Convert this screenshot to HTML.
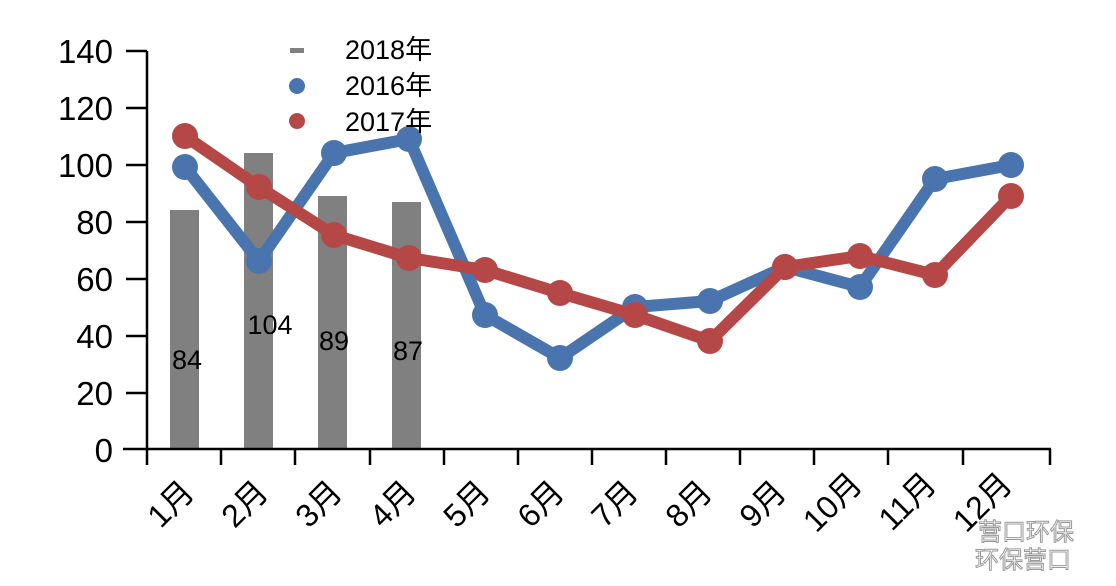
<!DOCTYPE html><html><head><meta charset="utf-8"><style>body{margin:0;background:#fff}</style></head><body>
<svg width="1116" height="581" xmlns="http://www.w3.org/2000/svg" font-family="'Liberation Sans','Noto Sans CJK SC',sans-serif">
<g fill="#808080">
<rect x="170" y="210" width="29" height="239"/>
<rect x="244" y="153" width="29" height="296"/>
<rect x="318" y="196" width="29" height="253"/>
<rect x="392" y="202" width="29" height="247"/>
</g>
<g font-size="27" fill="#000" text-anchor="middle">
<text x="187" y="369">84</text><text x="270" y="334">104</text><text x="334" y="350">89</text><text x="408" y="360">87</text>
</g>
<g stroke="#000" stroke-width="2.5" fill="none">
<line x1="147" y1="51" x2="147" y2="465"/>
<line x1="123" y1="449" x2="1051" y2="449"/>
<line x1="126" y1="51" x2="147" y2="51"/><line x1="126" y1="108" x2="147" y2="108"/><line x1="126" y1="165" x2="147" y2="165"/><line x1="126" y1="222" x2="147" y2="222"/><line x1="126" y1="279" x2="147" y2="279"/><line x1="126" y1="336" x2="147" y2="336"/><line x1="126" y1="393" x2="147" y2="393"/>
<line x1="221" y1="449" x2="221" y2="465"/><line x1="295" y1="449" x2="295" y2="465"/><line x1="370" y1="449" x2="370" y2="465"/><line x1="444" y1="449" x2="444" y2="465"/><line x1="518" y1="449" x2="518" y2="465"/><line x1="592" y1="449" x2="592" y2="465"/><line x1="666" y1="449" x2="666" y2="465"/><line x1="740" y1="449" x2="740" y2="465"/><line x1="814" y1="449" x2="814" y2="465"/><line x1="888" y1="449" x2="888" y2="465"/><line x1="963" y1="449" x2="963" y2="465"/><line x1="1050" y1="449" x2="1050" y2="465"/>
</g>
<g font-size="33" fill="#000" text-anchor="end">
<text x="113" y="63">140</text><text x="113" y="120">120</text><text x="113" y="177">100</text><text x="113" y="234">80</text><text x="113" y="291">60</text><text x="113" y="348">40</text><text x="113" y="405">20</text><text x="113" y="462">0</text>
</g>
<g font-size="32" fill="#000" text-anchor="end">
<text transform="translate(196,494) rotate(-45)">1月</text>
<text transform="translate(270,494) rotate(-45)">2月</text>
<text transform="translate(344,494) rotate(-45)">3月</text>
<text transform="translate(418,494) rotate(-45)">4月</text>
<text transform="translate(492,494) rotate(-45)">5月</text>
<text transform="translate(566,494) rotate(-45)">6月</text>
<text transform="translate(640,494) rotate(-45)">7月</text>
<text transform="translate(714,494) rotate(-45)">8月</text>
<text transform="translate(788,494) rotate(-45)">9月</text>
<text transform="translate(864,486) rotate(-45)">10月</text>
<text transform="translate(938,486) rotate(-45)">11月</text>
<text transform="translate(1014,486) rotate(-45)">12月</text>
</g>
<polyline fill="none" stroke="#4a74ae" stroke-width="12" stroke-linejoin="round" points="185,167 259,261 334,153 409,139 485,315 560,358 635,307 710,301 785,267 860,287 935,179 1011,165"/>
<g fill="#4a74ae"><circle cx="185" cy="167" r="13"/><circle cx="259" cy="261" r="13"/><circle cx="334" cy="153" r="13"/><circle cx="409" cy="139" r="13"/><circle cx="485" cy="315" r="13"/><circle cx="560" cy="358" r="13"/><circle cx="635" cy="307" r="13"/><circle cx="710" cy="301" r="13"/><circle cx="785" cy="267" r="13"/><circle cx="860" cy="287" r="13"/><circle cx="935" cy="179" r="13"/><circle cx="1011" cy="165" r="13"/></g>
<polyline fill="none" stroke="#b54846" stroke-width="12" stroke-linejoin="round" points="185,136 259,187 334,235 409,258 485,270 560,293 635,315 710,341 785,267 860,256 935,275 1011,196"/>
<g fill="#b54846"><circle cx="185" cy="136" r="13"/><circle cx="259" cy="187" r="13"/><circle cx="334" cy="235" r="13"/><circle cx="409" cy="258" r="13"/><circle cx="485" cy="270" r="13"/><circle cx="560" cy="293" r="13"/><circle cx="635" cy="315" r="13"/><circle cx="710" cy="341" r="13"/><circle cx="785" cy="267" r="13"/><circle cx="860" cy="256" r="13"/><circle cx="935" cy="275" r="13"/><circle cx="1011" cy="196" r="13"/></g>
<rect x="290" y="48" width="14" height="5" fill="#808080"/>
<circle cx="297" cy="86" r="8" fill="#4a74ae"/>
<circle cx="297" cy="121" r="8" fill="#b54846"/>
<g font-size="27" fill="#000"><text x="345" y="59">2018年</text><text x="345" y="95">2016年</text><text x="345" y="131">2017年</text></g>
<g font-size="24" fill="#fff" stroke="#999" stroke-width="1"><text x="975" y="568">环保营口</text><text x="978" y="540">营口环保</text></g>
</svg>
</body></html>
